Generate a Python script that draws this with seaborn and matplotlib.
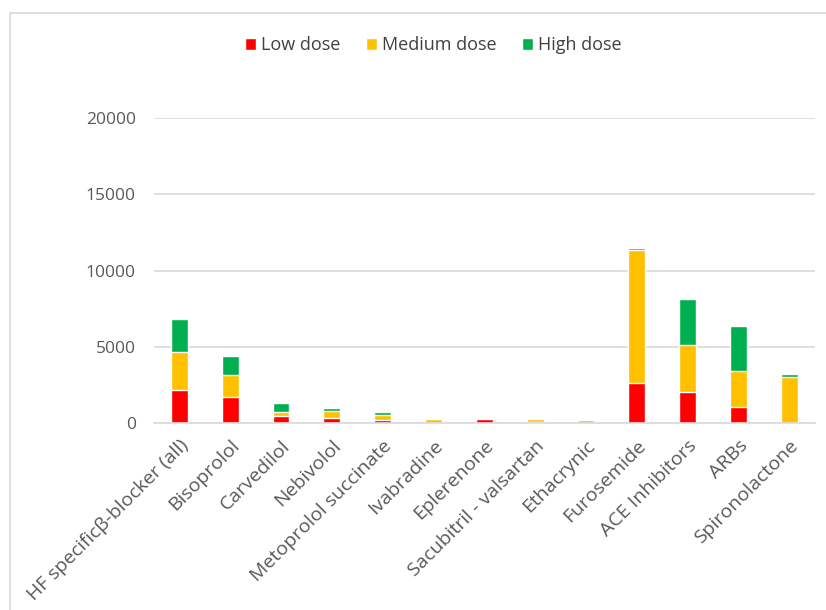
import numpy as np
import pandas as pd
import matplotlib.pyplot as plt
import seaborn as sns
from matplotlib.patches import Patch
from matplotlib.lines import Line2D

# data
drugs = ['HF specific\u03b2-blocker (all)', 'Bisoprolol', 'Carvedilol', 'Nebivolol',
         'Metoprolol succinate', 'Ivabradine', 'Eplerenone', 'Sacubitril - valsartan',
         'Ethacrynic', 'Furosemide', 'ACE Inhibitors', 'ARBs', 'Spironolactone']
low_dose = [2150, 1660, 410, 300, 150, 0, 220, 20, 10, 2580, 2030, 1050, 0]
medium_dose = [2490, 1470, 270, 470, 330, 240, 90, 200, 150, 8750, 3080, 2380, 3030]
high_dose = [2180, 1270, 630, 170, 200, 90, 0, 100, 20, 150, 2990, 2950, 180]
y_ticks = [0, 5000, 10000, 15000, 20000]

colors = {'Low dose': '#ff0000', 'Medium dose': '#ffc000', 'High dose': '#00b050'}

df = pd.DataFrame({'Drug': drugs, 'Low': low_dose, 'Medium': medium_dose, 'High': high_dose})
df['LowMed'] = df['Low'] + df['Medium']
df['Total'] = df['LowMed'] + df['High']

sns.set_style('white')
plt.rcParams['font.family'] = ['Open Sans', 'DejaVu Sans']

fig = plt.figure(figsize=(8.26, 6.10), dpi=100)
ax = fig.add_axes([0.1864, 0.307, 0.800, 0.499])

# stacked bars: draw cumulative totals on top of each other
sns.barplot(data=df, x='Drug', y='Total', order=drugs, color=colors['High dose'],
            width=0.33, saturation=1, ax=ax)
sns.barplot(data=df, x='Drug', y='LowMed', order=drugs, color=colors['Medium dose'],
            width=0.33, saturation=1, ax=ax)
sns.barplot(data=df, x='Drug', y='Low', order=drugs, color=colors['Low dose'],
            width=0.33, saturation=1, ax=ax)

ax.set_ylim(0, 20000)
ax.set_xlim(-0.5, len(drugs) - 0.5)
ax.set_yticks(y_ticks)
ax.set_yticklabels([str(v) for v in y_ticks])
ax.yaxis.grid(True, color='#d9d9d9', linewidth=1.2)
ax.set_axisbelow(True)
for s in ['top', 'right', 'left']:
    ax.spines[s].set_visible(False)
ax.spines['bottom'].set_color('#d9d9d9')
ax.spines['bottom'].set_linewidth(1.2)
ax.tick_params(axis='y', length=0, colors='#595959', labelsize=12.5, pad=13)
ax.tick_params(axis='x', length=0, colors='#595959', labelsize=14, pad=10)
ax.set_xlabel('')
ax.set_ylabel('')
for lab in ax.get_xticklabels():
    lab.set_rotation(45)
    lab.set_ha('right')
    lab.set_rotation_mode('anchor')

handles = [Patch(facecolor=c, label=k) for k, c in colors.items()]
fig.legend(handles=handles, loc='center', bbox_to_anchor=(0.525, 0.926), ncol=3,
           frameon=False, fontsize=13, handlelength=0.6, handleheight=0.6,
           handletextpad=0.3, columnspacing=1.4, labelcolor='#404040')

# chart area border (left and top edges visible)
fig.add_artist(Line2D([0.0121, 0.0121], [0.0, 0.9787], color='#d9d9d9', lw=1.2))
fig.add_artist(Line2D([0.0121, 1.0], [0.9787, 0.9787], color='#d9d9d9', lw=1.2))

fig.savefig('out.png', dpi=100)
